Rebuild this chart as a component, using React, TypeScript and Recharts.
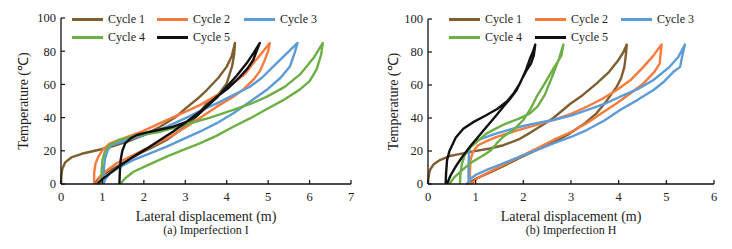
import React from 'react';
import { LineChart, Line, XAxis, YAxis, Label } from 'recharts';

type Pair = [number, number];

// legend / series
const cycleNames = ['Cycle 1', 'Cycle 2', 'Cycle 3', 'Cycle 4', 'Cycle 5'];
const cycleColors = ['#7e5f31', '#f67b3c', '#5d9bd6', '#6daf45', '#111111'];

// axis ticks
const tempTicks = [0, 20, 40, 60, 80, 100];
const dispTicksA = [0, 1, 2, 3, 4, 5, 6, 7];
const dispTicksB = [0, 1, 2, 3, 4, 5, 6];

// (a) Imperfection I : [lateral displacement (m), temperature]
const cycle1A: Pair[] = [
  [0, 0], [0.01, 5], [0.03, 9], [0.1, 13], [0.25, 16], [0.5, 18.2], [0.95, 20.8], [1.26, 22.8],
  [1.6, 25.5], [2.0, 29.5], [2.39, 34.5], [2.75, 40], [3.03, 46], [3.3, 51.5], [3.52, 56.6],
  [3.8, 64], [4.0, 70.7], [4.12, 77], [4.2, 85],
  [4.18, 78], [4.13, 71], [4.0, 60.6], [3.8, 54], [3.52, 48.6], [3.25, 40], [3.03, 35.5],
  [2.8, 31], [2.55, 26.5], [2.2, 22], [1.91, 18.5], [1.6, 14.2], [1.34, 10.4], [1.1, 7],
  [0.94, 4.4], [0.85, 1.5], [0.82, 0],
];
const cycle2A: Pair[] = [
  [0.8, 0], [0.8, 6.4], [0.83, 12], [0.9, 16.5], [1.02, 21], [1.18, 24.5], [1.5, 27.5],
  [1.95, 31.5], [2.55, 38.5], [3.0, 43.5], [3.35, 47.5], [3.8, 54], [4.16, 60.6], [4.45, 66.5],
  [4.64, 72.7], [4.85, 79], [5.04, 85],
  [5.0, 80], [4.92, 74.7], [4.8, 68], [4.64, 62.7], [4.4, 57], [4.16, 52.6], [3.76, 46.6],
  [3.4, 40.5], [3.03, 34.5], [2.6, 28], [2.15, 22.5], [1.75, 17.5], [1.34, 12.5], [1.1, 8],
  [0.94, 4.4], [0.87, 0],
];
const cycle3A: Pair[] = [
  [1.02, 0], [1.03, 8], [1.06, 15], [1.12, 20], [1.22, 23.5], [1.59, 26.5], [2.15, 30.5],
  [2.6, 35], [3.03, 40], [3.4, 44.5], [3.76, 48.6], [4.16, 53.5], [4.56, 58.6], [4.85, 64],
  [5.12, 70.7], [5.42, 78], [5.71, 85],
  [5.64, 79], [5.53, 71], [5.3, 64], [4.96, 56.6], [4.56, 49.5], [4.16, 42.6], [3.75, 36.5],
  [3.35, 31.5], [2.95, 27], [2.55, 22.5], [2.15, 18.5], [1.75, 14.5], [1.4, 10], [1.18, 6.4],
  [1.06, 2.5], [1.03, 0],
];
const cycle4A: Pair[] = [
  [0.97, 0], [0.98, 8], [1.0, 14.5], [1.06, 19.5], [1.18, 23.5], [1.4, 26.5], [1.7, 28.5],
  [2.0, 29.8], [2.4, 31.5], [3.03, 36], [3.6, 40], [4.16, 44.6], [4.6, 48.5], [4.96, 52.5],
  [5.4, 58.5], [5.77, 66], [6.1, 76], [6.32, 85],
  [6.28, 78], [6.17, 69], [6.0, 62], [5.77, 57], [5.4, 51], [4.96, 45], [4.56, 39.5],
  [4.16, 34.5], [3.75, 29], [3.35, 24.5], [2.95, 20.5], [2.55, 16.5], [2.15, 12], [1.75, 7.4],
  [1.55, 3.5], [1.43, 0],
];
const cycle5A: Pair[] = [
  [1.41, 0], [1.42, 7], [1.44, 14.5], [1.48, 20], [1.55, 24.5], [1.68, 27.5], [1.83, 29.5],
  [2.15, 31.5], [2.71, 34.5], [3.03, 37.5], [3.3, 41.5], [3.52, 46.6], [3.76, 52], [4.0, 58.6],
  [4.25, 65.5], [4.48, 72.7], [4.65, 79], [4.8, 85],
  [4.72, 80], [4.64, 74.7], [4.5, 69.5], [4.32, 64.6], [4.05, 58], [3.76, 52.6], [3.4, 44.5],
  [3.03, 37.5], [2.7, 31.5], [2.39, 26.5], [2.05, 21], [1.75, 16.5], [1.45, 11.5], [1.18, 6.4],
  [1.0, 3], [0.88, 0],
];

// (b) Imperfection H
const cycle1B: Pair[] = [
  [0, 0], [0.01, 4], [0.04, 8.5], [0.12, 12], [0.25, 14.5], [0.46, 17], [0.6, 17.8],
  [0.95, 19.8], [1.3, 21.5], [1.58, 23.5], [1.9, 27], [2.14, 31], [2.42, 36], [2.63, 40],
  [2.98, 48.5], [3.25, 54], [3.54, 61], [3.8, 68], [3.98, 74.5], [4.1, 80], [4.17, 84.5],
  [4.15, 78], [4.12, 71], [4.05, 64], [3.96, 59], [3.75, 50.5], [3.54, 43], [3.3, 37],
  [2.98, 30.7], [2.65, 25.5], [2.28, 20.6], [1.9, 15.5], [1.58, 10.8], [1.3, 7], [1.02, 3.4],
  [0.88, 1], [0.8, 0],
];
const cycle2B: Pair[] = [
  [0.88, 0], [0.88, 7], [0.89, 14.5], [0.95, 20], [1.05, 23.5], [1.23, 26], [1.44, 28.5],
  [1.93, 33], [2.3, 36], [2.7, 39.5], [3.0, 42.5], [3.33, 46.8], [3.65, 51.5], [3.96, 57],
  [4.25, 63], [4.52, 71], [4.72, 77.5], [4.9, 84.5],
  [4.88, 79], [4.86, 73], [4.75, 68], [4.52, 61], [4.25, 55], [3.96, 49], [3.65, 43],
  [3.33, 36.8], [3.0, 31.5], [2.63, 26.7], [2.28, 21.5], [1.93, 16.6], [1.58, 11.5],
  [1.23, 6.5], [1.02, 3], [0.9, 0],
];
const cycle3B: Pair[] = [
  [0.85, 0], [0.85, 10], [0.86, 18], [0.88, 22.6], [0.95, 25], [1.02, 26.5], [1.44, 30.7],
  [1.93, 34.7], [2.3, 37], [2.63, 38.8], [3.0, 41.5], [3.33, 44.8], [3.7, 48.5], [4.03, 52.9],
  [4.4, 57.5], [4.73, 63], [5.05, 70.5], [5.25, 77], [5.39, 84.5],
  [5.33, 77], [5.29, 71], [5.15, 68], [4.95, 62], [4.73, 57], [4.4, 51], [4.03, 44.8],
  [3.7, 38.5], [3.33, 32.7], [3.0, 28.5], [2.63, 24.6], [2.28, 20.5], [1.93, 16.6],
  [1.58, 12.5], [1.23, 8.5], [1.0, 5.5], [0.88, 3], [0.85, 0],
];
const cycle4B: Pair[] = [
  [0.67, 0], [0.68, 6], [0.71, 12], [0.77, 17.5], [0.88, 22], [0.99, 24.6], [1.23, 30.7],
  [1.45, 34], [1.65, 36.8], [1.9, 39.5], [2.14, 42.8], [2.3, 47], [2.45, 54], [2.63, 67],
  [2.75, 76], [2.84, 84.5],
  [2.8, 78], [2.72, 74], [2.63, 70], [2.45, 61], [2.28, 52.9], [2.15, 45.5], [2.0, 38.8],
  [1.8, 33], [1.58, 28.7], [1.44, 24.6], [1.32, 20.5], [1.23, 18.6], [1.05, 15.5],
  [0.88, 12.5], [0.7, 8], [0.55, 4], [0.45, 0],
];
const cycle5B: Pair[] = [
  [0.37, 0], [0.38, 7], [0.4, 14.5], [0.45, 20], [0.5, 23], [0.58, 28], [0.74, 33.5],
  [0.95, 37.5], [1.23, 41.8], [1.45, 45.5], [1.65, 49.9], [1.8, 55], [1.93, 61], [2.04, 68],
  [2.14, 76], [2.2, 80], [2.25, 84.5],
  [2.22, 78], [2.16, 73], [2.07, 69], [1.96, 63], [1.86, 57], [1.72, 51.5], [1.58, 46.8],
  [1.4, 40.5], [1.23, 34.7], [1.05, 28.5], [0.88, 22.6], [0.72, 16.5], [0.58, 10.5],
  [0.47, 5], [0.4, 0],
];

const FONT = "'Liberation Serif', 'Times New Roman', serif";

const XTick = (props: any) => {
  const { x, y, payload } = props;
  return (
    <g>
      <line x1={x} x2={x} y1={y} y2={y - 4} stroke="#111" strokeWidth={1.2} />
      <text x={x} y={y + 17} textAnchor="middle" fontSize={12.5} fontFamily={FONT} fill="#222">
        {payload.value}
      </text>
    </g>
  );
};

const YTick = (props: any) => {
  const { x, y, payload } = props;
  return (
    <g>
      <line x1={x} x2={x + 4} y1={y} y2={y} stroke="#111" strokeWidth={1.2} />
      <text x={x - 5} y={y} dy="0.35em" textAnchor="end" fontSize={12.5} fontFamily={FONT} fill="#222">
        {payload.value}
      </text>
    </g>
  );
};

interface PanelProps {
  left: number;
  cycles: Pair[][];
  xMax: number;
  xTicks: number[];
  margin: { top: number; right: number; bottom: number; left: number };
  yLabelOffset: number;
  subtitle: string;
  legendCols: number[];
}

const Panel: React.FC<PanelProps> = ({ left, cycles, xMax, xTicks, margin, yLabelOffset, subtitle, legendCols }) => {
  return (
    <div style={{ position: 'absolute', left, top: 0, width: 366, height: 249 }}>
      <LineChart width={366} height={249} margin={margin}>
        <XAxis
          type="number"
          dataKey="x"
          domain={[0, xMax]}
          ticks={xTicks}
          height={30}
          tickSize={0}
          tickMargin={0}
          tickLine={false}
          axisLine={{ stroke: '#111', strokeWidth: 1.3 }}
          tick={<XTick />}
          interval={0}
        >
          <Label value="Lateral displacement (m)" position="bottom" offset={-3}
            style={{ fontSize: 14, fontFamily: FONT, fill: '#222' }} />
          <Label value={subtitle} position="bottom" offset={11.5}
            style={{ fontSize: 12, fontFamily: FONT, fill: '#222' }} />
        </XAxis>
        <YAxis
          type="number"
          dataKey="t"
          domain={[0, 100]}
          ticks={tempTicks}
          width={40}
          tickSize={0}
          tickMargin={0}
          tickLine={false}
          axisLine={{ stroke: '#111', strokeWidth: 1.3 }}
          tick={<YTick />}
          interval={0}
        >
          <Label value="Temperature (℃)" angle={-90} position="insideLeft" offset={yLabelOffset}
            style={{ fontSize: 14, fontFamily: FONT, fill: '#222', textAnchor: 'middle' }} />
        </YAxis>
        {cycles.map((pts, i) => (
          <Line
            key={cycleNames[i]}
            name={cycleNames[i]}
            data={pts.map(([x, t]) => ({ x, t }))}
            dataKey="t"
            type="linear"
            stroke={cycleColors[i]}
            strokeWidth={2.4}
            strokeLinejoin="round"
            dot={false}
            activeDot={false}
            isAnimationActive={false}
          />
        ))}
      </LineChart>
      {cycleNames.map((name, i) => (
        <div
          key={name}
          style={{
            position: 'absolute',
            left: legendCols[i % 3] - left,
            top: (i < 3 ? 19 : 37) - 8,
            height: 16,
            display: 'flex',
            alignItems: 'center',
            fontFamily: FONT,
            fontSize: 12,
            color: '#222',
            whiteSpace: 'nowrap',
          }}
        >
          <span style={{ display: 'inline-block', width: 31, height: 3, background: cycleColors[i], marginRight: 5 }} />
          {name}
        </div>
      ))}
    </div>
  );
};

export default function App() {
  return (
    <div style={{ position: 'absolute', left: 0, top: 0, width: 732, height: 249, background: '#fff' }}>
      <Panel
        left={0}
        cycles={[cycle1A, cycle2A, cycle3A, cycle4A, cycle5A]}
        xMax={7}
        xTicks={dispTicksA}
        margin={{ top: 18, right: 15, bottom: 35, left: 21 }}
        yLabelOffset={2}
        subtitle="(a) Imperfection I"
        legendCols={[72, 157, 244]}
      />
      <Panel
        left={366}
        cycles={[cycle1B, cycle2B, cycle3B, cycle4B, cycle5B]}
        xMax={6}
        xTicks={dispTicksB}
        margin={{ top: 19, right: 18, bottom: 35, left: 22 }}
        yLabelOffset={5}
        subtitle="(b) Imperfection H"
        legendCols={[449, 535, 621]}
      />
    </div>
  );
}
